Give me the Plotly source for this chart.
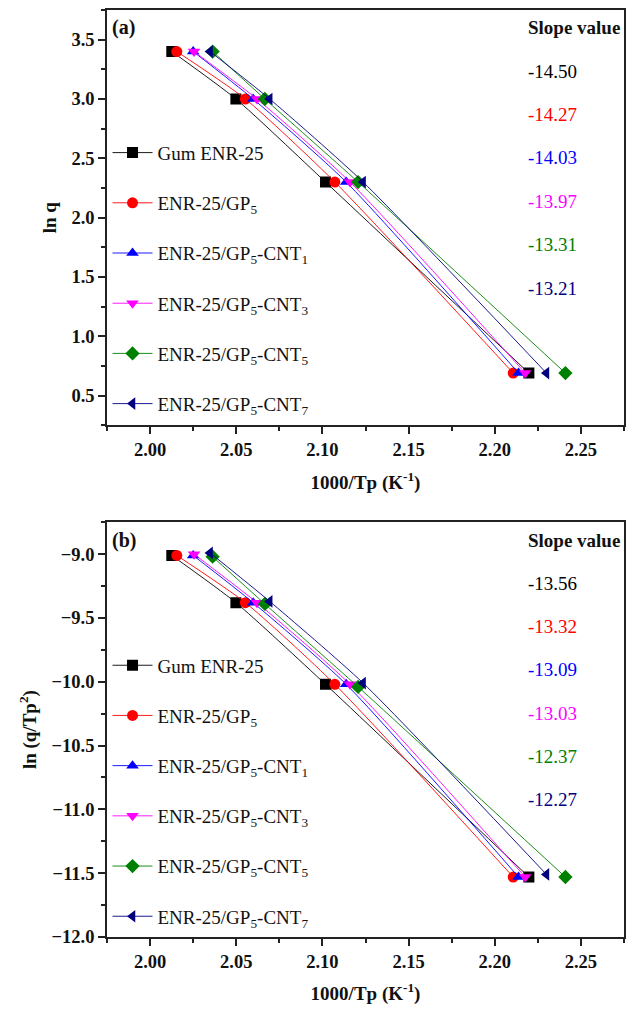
import plotly.graph_objects as go

# ---------------- data ----------------
names = ["Gum ENR-25", "ENR-25/GP<sub>5</sub>", "ENR-25/GP<sub>5</sub>-CNT<sub>1</sub>",
         "ENR-25/GP<sub>5</sub>-CNT<sub>3</sub>", "ENR-25/GP<sub>5</sub>-CNT<sub>5</sub>",
         "ENR-25/GP<sub>5</sub>-CNT<sub>7</sub>"]
colors = ["#000000", "#FF0000", "#0000FF", "#FF00FF", "#008000", "#000080"]
symbols = ["square", "circle", "triangle-up", "triangle-down", "diamond", "triangle-left"]

# 1000/Tp (K^-1) for heating rates q = 30, 20, 10, 2
x_gum = [2.0126, 2.0498, 2.1018, 2.2198]
x_gp5 = [2.0155, 2.0553, 2.1072, 2.2107]
x_cnt1 = [2.0250, 2.0598, 2.1138, 2.2138]
x_cnt3 = [2.0255, 2.0620, 2.1160, 2.2177]
x_cnt5 = [2.0363, 2.0666, 2.1207, 2.2410]
x_cnt7 = [2.0348, 2.0694, 2.1236, 2.2300]
x_all = [x_gum, x_gp5, x_cnt1, x_cnt3, x_cnt5, x_cnt7]

# panel (a): ln q
lnq = [3.40, 3.00, 2.30, 0.69]

# panel (b): ln(q/Tp^2)
yb_gum = [-9.01, -9.38, -10.02, -11.53]
yb_gp5 = [-9.01, -9.38, -10.02, -11.53]
yb_cnt1 = [-9.01, -9.38, -10.02, -11.53]
yb_cnt3 = [-9.00, -9.38, -10.02, -11.53]
yb_cnt5 = [-9.02, -9.39, -10.04, -11.53]
yb_cnt7 = [-8.99, -9.37, -10.01, -11.51]
yb_all = [yb_gum, yb_gp5, yb_cnt1, yb_cnt3, yb_cnt5, yb_cnt7]

slopes_a = ["-14.50", "-14.27", "-14.03", "-13.97", "-13.31", "-13.21"]
slopes_b = ["-13.56", "-13.32", "-13.09", "-13.03", "-12.37", "-12.27"]

FONT = "Liberation Serif, Times New Roman, serif"

fig = go.Figure()
for i in range(6):
    for panel, ys, xa, ya, lg in (("a", lnq, "x", "y", "legend"),
                                  ("b", yb_all[i], "x2", "y2", "legend2")):
        fig.add_trace(go.Scatter(
            x=x_all[i], y=ys, xaxis=xa, yaxis=ya,
            mode="lines+markers", name=names[i],
            legend=lg, legendgroup=panel + str(i),
            line=dict(color=colors[i], width=0.9, shape="spline", smoothing=0.6),
            marker=dict(symbol=symbols[i], color=colors[i], size=11,
                        line=dict(width=0)),
        ))

axis_common = dict(
    showline=True, linewidth=1.6, linecolor="#222", mirror=True,
    ticks="outside", ticklen=7, tickwidth=1.5, tickcolor="#222",
    showgrid=False, zeroline=False,
    tickfont=dict(family=FONT, size=18.5, color="#111", weight="bold"),
    minor=dict(ticks="outside", ticklen=4, tickwidth=1.5, tickcolor="#222", showgrid=False),
)

xaxis_kw = dict(axis_common, range=[1.975, 2.275], dtick=0.05, tickformat=".2f",
                tick0=2.0)
xaxis_kw["minor"] = dict(axis_common["minor"], dtick=0.025, tick0=2.0)

ya_kw = dict(axis_common, range=[0.25, 3.75], dtick=0.5, tick0=0.5, tickformat=".1f")
ya_kw["minor"] = dict(axis_common["minor"], dtick=0.25, tick0=0.5)
yb_kw = dict(axis_common, range=[-12.0, -8.75], dtick=0.5, tick0=-12.0, tickformat=".1f")
yb_kw["minor"] = dict(axis_common["minor"], dtick=0.25, tick0=-12.0)

title_font = dict(family=FONT, size=19, color="#111", weight="bold")

legend_common = dict(
    font=dict(family=FONT, size=19, color="#111"),
    bgcolor="rgba(0,0,0,0)", borderwidth=0,
    xanchor="left", yanchor="top", x=0.001,
    tracegroupgap=22.5, itemwidth=40,
)

fig.update_layout(
    width=634, height=1009,
    margin=dict(l=107, r=9, t=8, b=69),
    paper_bgcolor="white", plot_bgcolor="white",
    xaxis=dict(xaxis_kw, domain=[0, 1], anchor="y",
               title=dict(text="1000/Tp (K<sup>-1</sup>)", font=title_font, standoff=16)),
    yaxis=dict(ya_kw, domain=[0.552, 1.0], anchor="x",
               title=dict(text="ln q", font=title_font, standoff=10)),
    xaxis2=dict(xaxis_kw, domain=[0, 1], anchor="y2",
                title=dict(text="1000/Tp (K<sup>-1</sup>)", font=title_font, standoff=16)),
    yaxis2=dict(yb_kw, domain=[0.0, 0.4474], anchor="x2",
                title=dict(text="ln (q/Tp<sup>2</sup>)", font=title_font, standoff=10)),
    legend=dict(legend_common, y=0.8665),
    legend2=dict(legend_common, y=0.3135),
    showlegend=True,
)

# panel labels and slope values
for xr, yr, lab, slopes in (("x domain", "y domain", "(a)", slopes_a),
                            ("x2 domain", "y2 domain", "(b)", slopes_b)):
    fig.add_annotation(xref=xr, yref=yr, x=0.005, y=0.957, text="<b>%s</b>" % lab,
                       showarrow=False, xanchor="left", yanchor="middle",
                       font=dict(family=FONT, size=20, color="#111"))
    fig.add_annotation(xref=xr, yref=yr, x=0.811, y=0.957, text="<b>Slope value</b>",
                       showarrow=False, xanchor="left", yanchor="middle",
                       font=dict(family=FONT, size=19, color="#111"))
    for i, s in enumerate(slopes):
        fig.add_annotation(xref=xr, yref=yr, x=0.811, y=0.853 - i * 0.1045, text=s,
                           showarrow=False, xanchor="left", yanchor="middle",
                           font=dict(family=FONT, size=19, color=colors[i]))

fig.write_html("out.html")
